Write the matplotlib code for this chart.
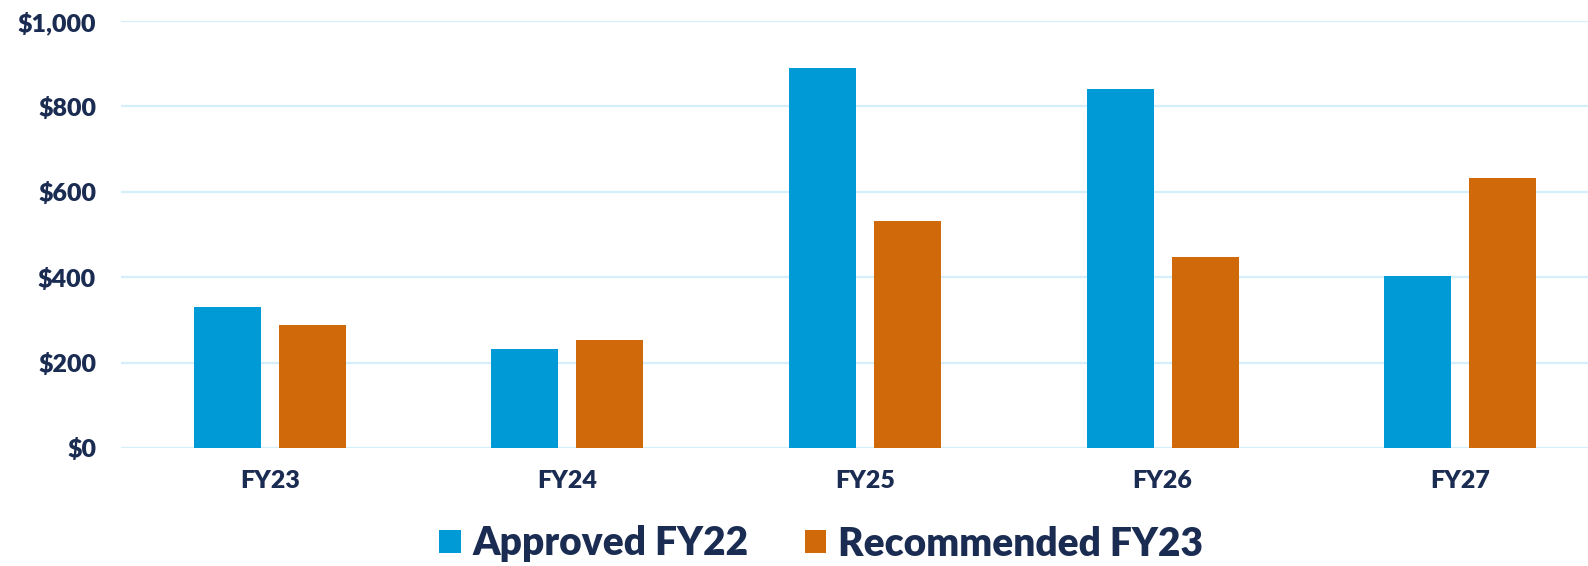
import matplotlib
matplotlib.use("Agg")
import matplotlib.pyplot as plt
from matplotlib.patches import Patch
import numpy as np

categories = ["FY23", "FY24", "FY25", "FY26", "FY27"]
approved_fy22 = [330, 231, 890, 840, 403]
recommended_fy23 = [287, 254, 531, 447, 632]
y_ticks = [0, 200, 400, 600, 800, 1000]
y_tick_labels = ["$0", "$200", "$400", "$600", "$800", "$1,000"]
series_names = ["Approved FY22", "Recommended FY23"]

BLUE = "#009AD7"
ORANGE = "#D0690A"
NAVY = "#1B2C52"
GRID = "#D4EEFA"

plt.rcParams["font.family"] = ["Lato", "DejaVu Sans"]
plt.rcParams["font.weight"] = "bold"

W, H = 1588, 566
fig = plt.figure(figsize=(W / 100, H / 100), dpi=100)
left_px, right_px, top_px, bot_px = 121, 1609, 21, 448
ax = fig.add_axes([left_px / W, 1 - bot_px / H, (right_px - left_px) / W, (bot_px - top_px) / H])

x = np.arange(len(categories))
bw = 0.225
off = 0.143
ax.bar(x - off, approved_fy22, bw, color=BLUE, zorder=3)
ax.bar(x + off, recommended_fy23, bw, color=ORANGE, zorder=3)

ax.set_xlim(-0.5, 4.5)
ax.set_ylim(0, 1000)
ax.set_yticks(y_ticks)
ax.set_yticklabels(y_tick_labels, fontdict={"weight": "heavy", "size": 18})
ax.set_xticks(x)
ax.set_xticklabels(categories, fontdict={"weight": "heavy", "size": 18})
for s in ax.spines.values():
    s.set_visible(False)
ax.yaxis.grid(True, color=GRID, linewidth=1.6, zorder=0)
ax.set_axisbelow(True)
ax.tick_params(axis="both", length=0, colors=NAVY)
ax.tick_params(axis="y", pad=18)
ax.tick_params(axis="x", pad=16)
for lab in ax.get_xticklabels() + ax.get_yticklabels():
    lab.set_color(NAVY)

handles = [Patch(facecolor=BLUE, edgecolor="none"), Patch(facecolor=ORANGE, edgecolor="none")]
leg = fig.legend(handles, series_names, loc="center", bbox_to_anchor=(821 / W, 1 - 544 / H),
                 ncol=2, frameon=False, prop={"weight": "heavy", "size": 28},
                 handlelength=0.55, handleheight=0.55,
                 handletextpad=0.3, columnspacing=1.45, borderpad=0, borderaxespad=0)
for t in leg.get_texts():
    t.set_color(NAVY)

fig.savefig("out.png", dpi=100)
